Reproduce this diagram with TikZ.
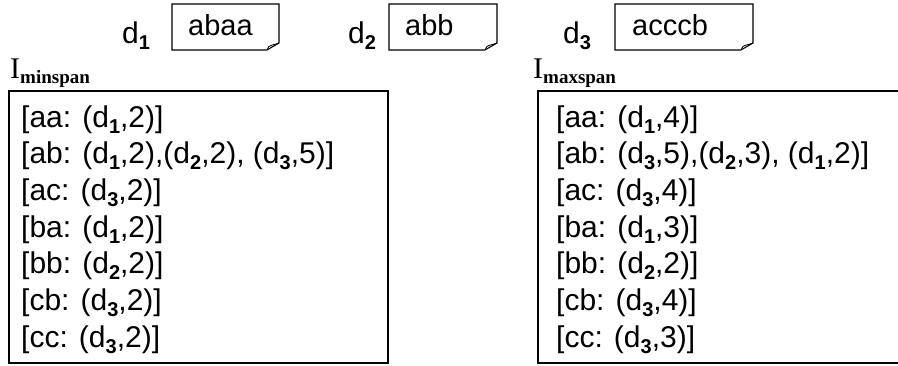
\documentclass[tikz,border=0pt]{standalone}
\usepackage{fontspec}
\setmainfont{Liberation Sans}
\newfontfamily\serifface{Liberation Serif}
\newcommand{\dsb}[1]{\raisebox{-6pt}{\fontsize{20}{20}\selectfont\bfseries #1}}
\begin{document}
\begin{tikzpicture}[x=1pt,y=-1pt,
  txt/.style={font=\fontsize{30}{34}\selectfont, inner sep=0pt, anchor=base west},
  doctxt/.style={font=\fontsize{29}{34}\selectfont, inner sep=0pt, anchor=base west},
  docline/.style={draw, line width=1.1pt, line join=miter},
  frame/.style={draw, line width=1.6pt, inner sep=0pt, anchor=north west},
  ilabel/.style={font=\fontsize{30}{34}\serifface, inner sep=0pt, anchor=base west}]
\useasboundingbox (0,0) rectangle (898,365);
% document labels
\node[txt] (l1) at (122,43) {d\dsb{1}};
\node[txt] (l2) at (348,43) {d\dsb{2}};
\node[txt] (l3) at (563,43) {d\dsb{3}};
% document boxes
\foreach \xa/\xb in {172/279,389/497,615/753}{
  \draw[docline] (\xa,4) -- (\xb,4) -- (\xb,43) .. controls (\xb-6,47) .. (\xb-12,50) -- (\xa,50) -- cycle;
  \draw[line width=0.8pt] (\xb-12,50) .. controls (\xb-10,46) .. (\xb-8,45.5) -- (\xb,43);
}
\node[doctxt] (t1) at (188,35) {abaa};
\node[doctxt] (t2) at (405,35) {abb};
\node[doctxt] (t3) at (632,35) {acccb};
% index labels
\node[ilabel] (imin) at (10,78) {I\raisebox{-5pt}{\fontsize{19}{19}\selectfont\bfseries minspan}};
\node[ilabel] (imax) at (533,78) {I\raisebox{-5pt}{\fontsize{19}{19}\selectfont\bfseries maxspan}};
% frames
\node[frame, minimum width=379pt, minimum height=272pt] (minframe) at (8,90) {};
\node[frame, minimum width=380pt, minimum height=272pt] (maxframe) at (537,90) {};
% lists
\foreach \lin [count=\k] in {{[aa: (d\dsb{1},2)]},{[ab: (d\dsb{1},2),(d\dsb{2},2), (d\dsb{3},5)]},{[ac: (d\dsb{3},2)]},{[ba: (d\dsb{1},2)]},{[bb: (d\dsb{2},2)]},{[cb: (d\dsb{3},2)]},{[cc: (d\dsb{3},2)]}}{
  \node[txt] (mn\k) at (21,{127+(\k-1)*36.67}) {\lin};
}
\foreach \lin [count=\k] in {{[aa: (d\dsb{1},4)]},{[ab: (d\dsb{3},5),(d\dsb{2},3), (d\dsb{1},2)]},{[ac: (d\dsb{3},4)]},{[ba: (d\dsb{1},3)]},{[bb: (d\dsb{2},2)]},{[cb: (d\dsb{3},4)]},{[cc: (d\dsb{3},3)]}}{
  \node[txt] (mx\k) at (556,{127+(\k-1)*36.67}) {\lin};
}
\end{tikzpicture}
\end{document}
